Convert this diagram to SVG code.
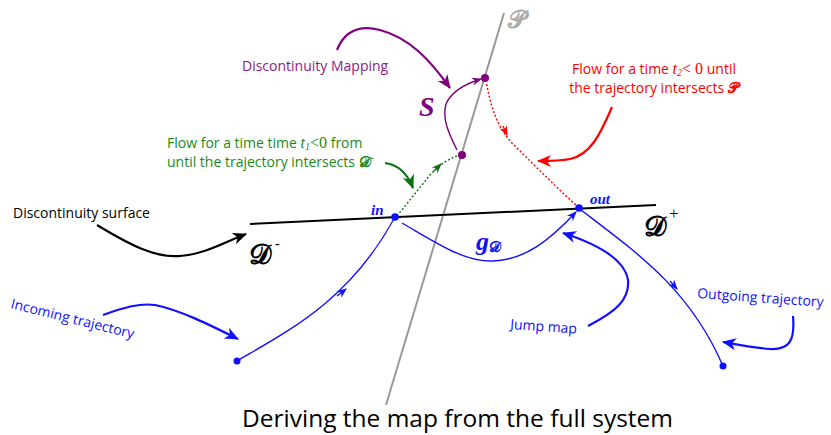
<svg xmlns="http://www.w3.org/2000/svg" width="831" height="435" viewBox="0 0 831 435">
<style>
.lbl{font-family:"Open Sans","Liberation Sans",sans-serif;font-size:14px}
.math{font-family:"Liberation Serif",serif;font-style:italic}
.scr{font-family:"DejaVu Serif","DejaVu Sans","Noto Sans",serif;font-weight:bold}
.thin{fill:none;stroke-width:1.4}
.thick{fill:none;stroke-width:2.2}
</style>
<defs>
<marker id="aBs" viewBox="-12 -6 14 12" refX="0" refY="0" markerWidth="14" markerHeight="12" markerUnits="userSpaceOnUse" orient="auto"><path d="M1,0 L-9,-4 L-6,0 L-9,4 Z" fill="#1010ff"/></marker>
<marker id="aBb" viewBox="-16 -8 18 16" refX="0" refY="0" markerWidth="18" markerHeight="16" markerUnits="userSpaceOnUse" orient="auto"><path d="M1,0 L-13,-6 L-9,0 L-13,6 Z" fill="#1010ff"/></marker>
<marker id="aK" viewBox="-16 -8 18 16" refX="0" refY="0" markerWidth="18" markerHeight="16" markerUnits="userSpaceOnUse" orient="auto"><path d="M1,0 L-13,-6 L-9,0 L-13,6 Z" fill="#000"/></marker>
<marker id="aP" viewBox="-16 -8 18 16" refX="0" refY="0" markerWidth="18" markerHeight="16" markerUnits="userSpaceOnUse" orient="auto"><path d="M1,0 L-13,-6 L-9,0 L-13,6 Z" fill="#800080"/></marker>
<marker id="aPs" viewBox="-12 -6 14 12" refX="0" refY="0" markerWidth="14" markerHeight="12" markerUnits="userSpaceOnUse" orient="auto"><path d="M1,0 L-9,-4 L-6,0 L-9,4 Z" fill="#800080"/></marker>
<marker id="aR" viewBox="-16 -8 18 16" refX="0" refY="0" markerWidth="18" markerHeight="16" markerUnits="userSpaceOnUse" orient="auto"><path d="M1,0 L-13,-6 L-9,0 L-13,6 Z" fill="#ff0000"/></marker>
<marker id="aRs" viewBox="-12 -6 14 12" refX="0" refY="0" markerWidth="14" markerHeight="12" markerUnits="userSpaceOnUse" orient="auto"><path d="M1,0 L-9,-4 L-6,0 L-9,4 Z" fill="#ff0000"/></marker>
<marker id="aG" viewBox="-16 -8 18 16" refX="0" refY="0" markerWidth="18" markerHeight="16" markerUnits="userSpaceOnUse" orient="auto"><path d="M1,0 L-13,-6 L-9,0 L-13,6 Z" fill="#107010"/></marker>
<marker id="aGs" viewBox="-12 -6 14 12" refX="0" refY="0" markerWidth="14" markerHeight="12" markerUnits="userSpaceOnUse" orient="auto"><path d="M1,0 L-9,-4 L-6,0 L-9,4 Z" fill="#107010"/></marker>
</defs>
<rect width="831" height="435" fill="#fff"/>

<g id="surfaces">
<line x1="504" y1="13" x2="386" y2="405" stroke="#999" stroke-width="2"/>
<line x1="250" y1="224" x2="656" y2="205" stroke="#000" stroke-width="2"/>
</g>

<g id="connectors">
<path class="thin" stroke="#1010ff" d="M237,361 C290,330 350,300 395,217"/>
<path class="thin" stroke="#1010ff" marker-end="url(#aBs)" d="M337,296 L346,289"/>
<path class="thin" stroke="#1010ff" marker-end="url(#aBs)" d="M402,223 C440,245 465,262 493,261 C525,260 550,240 576,212"/>
<path class="thin" stroke="#1010ff" d="M581,210 C640,255 690,290 723,366"/>
<path class="thin" stroke="#1010ff" marker-end="url(#aBs)" d="M670,281 L677,289"/>
<path fill="none" stroke="#ff0000" stroke-width="1.4" stroke-dasharray="2,2" d="M486,80 C490,105 497,127 512,143 C535,166 555,186 577,206"/>
<path fill="none" stroke="#ff0000" stroke-width="1.4" marker-end="url(#aRs)" d="M503,126 L507,135"/>
<path fill="none" stroke="#107010" stroke-width="1.4" stroke-dasharray="2,2" d="M397,216 L430,175 C440,164 450,158 460,155"/>
<path fill="none" stroke="#107010" stroke-width="1.4" marker-end="url(#aGs)" d="M434,171 L441,164"/>
<path class="thin" stroke="#800080" marker-end="url(#aPs)" d="M457,150 C448,132 442,118 446,104 C452,90 468,83 481,79"/>
<path class="thick" stroke="#800080" marker-end="url(#aP)" d="M337,50 C345,30 360,25 380,30 C410,38 430,60 450,88"/>
<path class="thick" stroke="#ff0000" marker-end="url(#aR)" d="M612,107 C600,135 590,155 570,159 C560,161 550,161 538,161"/>
<path class="thick" stroke="#107010" marker-end="url(#aG)" d="M385,163 C400,165 408,175 413,188"/>
<path class="thick" stroke="#000" marker-end="url(#aK)" d="M97,225 C130,245 155,258 180,256 C205,254 225,242 246,234"/>
<path class="thick" stroke="#1010ff" marker-end="url(#aBb)" d="M103,315 C125,307 140,303 155,305 C180,310 210,325 238,339"/>
<path class="thick" stroke="#1010ff" marker-end="url(#aBb)" d="M588,326 C615,312 630,300 628,280 C625,260 600,245 563,233"/>
<path class="thick" stroke="#1010ff" marker-end="url(#aBb)" d="M793,316 C795,340 790,350 770,349 C755,348 740,345 723,342"/>
</g>

<g id="points">
<circle cx="237" cy="361" r="3.5" fill="#1010ff"/>
<circle cx="395" cy="217" r="3.8" fill="#1010ff"/>
<circle cx="579" cy="208" r="3.8" fill="#1010ff"/>
<circle cx="723" cy="366" r="3.5" fill="#1010ff"/>
<circle cx="485" cy="78" r="4" fill="#800080"/>
<circle cx="462" cy="155" r="4" fill="#800080"/>
</g>

<g id="symbols">
<text x="508" y="28" class="scr" font-size="25" fill="#aaa">𝒫</text>
<text x="419" y="116" font-family="Liberation Serif,serif" font-weight="bold" font-style="italic" font-size="28" fill="#800080">S</text>
<text x="249" y="264" class="scr" font-size="28" fill="#000">𝒟</text>
<text x="275" y="248" font-family="Liberation Serif,serif" font-weight="bold" font-size="14" fill="#000">-</text>
<text x="644" y="236" class="scr" font-size="28" fill="#000">𝒟</text>
<text x="669" y="219" font-family="Liberation Serif,serif" font-size="17" fill="#000">+</text>
<text x="371" y="215" font-family="Liberation Serif,serif" font-weight="bold" font-style="italic" font-size="15" fill="#1010ff">in</text>
<text x="590" y="204" font-family="Liberation Serif,serif" font-weight="bold" font-style="italic" font-size="15" fill="#1010ff">out</text>
<text x="476" y="250" font-family="Liberation Serif,serif" font-weight="bold" font-style="italic" font-size="26" fill="#1010ff">g<tspan class="scr" font-style="normal" font-size="15" dy="2">𝒟</tspan></text>
</g>

<g id="label-mapping">
<text x="242" y="71" class="lbl" fill="#8b1a8b">Discontinuity Mapping</text>
</g>
<g id="label-red">
<text x="654" y="74" class="lbl" fill="#ff0000" text-anchor="middle">Flow for a time <tspan class="math" font-size="16">t</tspan><tspan class="math" font-size="10" dy="2">2</tspan><tspan font-family="Liberation Serif,serif" font-size="16" dy="-2">&lt; 0</tspan> until</text>
<text x="654" y="93" class="lbl" fill="#ff0000" text-anchor="middle">the trajectory intersects <tspan class="scr" font-size="15">𝒫</tspan></text>
</g>
<g id="label-green">
<text x="167" y="148" class="lbl" fill="#1a8a1a">Flow for a time time <tspan class="math" font-size="16">t</tspan><tspan class="math" font-size="10" dy="2">1</tspan><tspan font-family="Liberation Serif,serif" font-size="16" dy="-2">&lt;0</tspan> from</text>
<text x="167" y="167" class="lbl" fill="#1a8a1a">until the trajectory intersects <tspan class="scr" font-size="15">𝒟</tspan><tspan font-size="11" dy="-6">-</tspan></text>
</g>
<g id="label-surface">
<text x="13" y="218" class="lbl" fill="#000">Discontinuity surface</text>
</g>
<g id="label-incoming">
<text x="10" y="308" class="lbl" fill="#1010ff" transform="rotate(14 10 308)">Incoming trajectory</text>
</g>
<g id="label-jump">
<text x="510" y="329" class="lbl" fill="#1010ff" transform="rotate(4 510 329)">Jump map</text>
</g>
<g id="label-outgoing">
<text x="697" y="298" class="lbl" fill="#1010ff" transform="rotate(4 697 298)">Outgoing trajectory</text>
</g>
<g id="title">
<text x="242" y="427" font-family="Open Sans,Liberation Sans,sans-serif" font-size="24" fill="#000" textLength="431" lengthAdjust="spacingAndGlyphs">Deriving the map from the full system</text>
</g>
</svg>
